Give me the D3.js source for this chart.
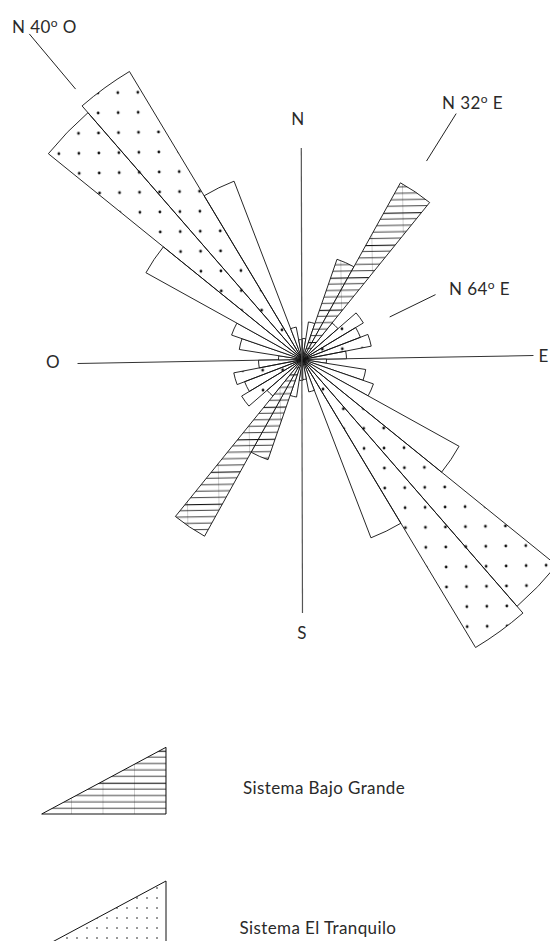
<!DOCTYPE html>
<html>
<head>
<meta charset="utf-8">
<script src="https://cdn.jsdelivr.net/npm/d3@7"></script>
<style>
  html, body { margin: 0; padding: 0; background: #fff; }
  svg { display: block; }
  text { font-family: Lato, "Open Sans", "DejaVu Sans", sans-serif; fill: #2a2a2a; letter-spacing: 0.4px; }
</style>
</head>
<body>
<svg id="rose" width="550" height="941"></svg>
<script>
// Azimuth bins (start of each 10° class); every class is drawn twice (az and az+180)
const binStarts = [0, 10, 20, 30, 40, 50, 60, 70, 80, 90, 100, 110, 120, 130, 140, 150, 160, 170];

// Frequencies per class
const otherValues      = [2.1, 3.8, 0, 0, 4.7, 0, 0, 0, 4.4, 2.4, 6.4, 7.5, 17.9, 0, 0, 19.1, 3.3, 2.0];
const tranquiloValues  = [0, 0, 0, 0, 0, 7.1, 6.2, 7.0, 0, 0, 0, 0, 0, 32.7, 33.6, 0, 0, 0];
const bajoGrandeValues = [0, 0, 10.6, 20.2, 0, 0, 0, 0, 0, 0, 0, 0, 0, 0, 0, 0, 0, 0];

// Compass points and main trends
const compassNames = ["N", "E", "S", "O"];
const trendNames   = ["N 40º O", "N 32º E", "N 64º E"];
const trendAz      = [320, 32, 64];

// Legend
const legendNames = ["Sistema Bajo Grande", "Sistema El Tranquilo"];
const legendFills = ["hatch", "dots-fine"];

const svg = d3.select("#rose");
const cx = 302.5, cy = 359.5;
const tilt = -1;               // the drawing is turned slightly anticlockwise

const r = d3.scaleLinear().domain([0, 35]).range([0, 350]);
const rad = d => d * Math.PI / 180;

// ---------- fill patterns ----------
const defs = svg.append("defs");

const dots = defs.append("pattern").attr("id", "dots")
  .attr("patternUnits", "userSpaceOnUse").attr("width", 20).attr("height", 20)
  .attr("x", 10).attr("y", 0);
dots.append("circle").attr("cx", 10).attr("cy", 10).attr("r", 1.4).attr("fill", "#111");

const dotsFine = defs.append("pattern").attr("id", "dots-fine")
  .attr("patternUnits", "userSpaceOnUse").attr("width", 10).attr("height", 10)
  .attr("x", 2).attr("y", 3);
dotsFine.append("circle").attr("cx", 5).attr("cy", 5).attr("r", 1).attr("fill", "#777");

const hatch = defs.append("pattern").attr("id", "hatch")
  .attr("patternUnits", "userSpaceOnUse").attr("width", 31.5).attr("height", 32)
  .attr("x", 8).attr("y", 14.7);
hatch.append("rect").attr("width", 31.5).attr("height", 32).attr("fill", "#fff");
hatch.append("line").attr("x1", 0).attr("x2", 0).attr("y1", 0).attr("y2", 32)
  .attr("stroke", "#888").attr("stroke-width", 0.8);
d3.range(5).forEach(i => {
  hatch.append("line").attr("x1", 0).attr("x2", 31.5)
    .attr("y1", i * 6.4).attr("y2", i * 6.4)
    .attr("stroke", "#111").attr("stroke-width", i === 0 ? 2.2 : 0.8);
});

// ---------- petals ----------
const petals = [];
[[otherValues, "#fff"], [tranquiloValues, "url(#dots)"], [bajoGrandeValues, "url(#hatch)"]]
  .forEach(([vals, fill]) => {
    binStarts.forEach((b, i) => {
      if (vals[i] > 0) {
        petals.push({ start: b, value: vals[i], fill });
        petals.push({ start: b + 180, value: vals[i], fill });
      }
    });
  });

const arc = d3.arc()
  .innerRadius(0)
  .outerRadius(d => r(d.value))
  .startAngle(d => rad(d.start))
  .endAngle(d => rad(d.start + 10));

const rose = svg.append("g")
  .attr("transform", `translate(${cx},${cy}) rotate(${tilt})`);

// East-west axis turns with the petals
rose.append("line")
  .attr("x1", -225).attr("x2", 231).attr("y1", 0).attr("y2", 0)
  .attr("stroke", "#333").attr("stroke-width", 1);

rose.selectAll("path.petal")
  .data(petals)
  .join("path")
  .attr("class", "petal")
  .attr("d", arc)
  .attr("fill", d => d.fill)
  .attr("stroke", "#111")
  .attr("stroke-width", 0.9)
  .attr("stroke-linejoin", "round");

// North-south axis
const axes = svg.append("g").attr("transform", `translate(${cx},${cy})`);
axes.append("line")
  .attr("x1", -1.2).attr("x2", 0).attr("y1", -211.5).attr("y2", 253.5)
  .attr("stroke", "#555").attr("stroke-width", 1.2);

// Compass letters
const compassPos = { N: [-4.5, -241], E: [241, -4], S: [-0.5, 273], O: [-249.5, 1.5] };
axes.selectAll("text.compass")
  .data(compassNames)
  .join("text")
  .attr("class", "compass")
  .attr("x", d => compassPos[d][0])
  .attr("y", d => compassPos[d][1])
  .attr("text-anchor", "middle")
  .attr("dominant-baseline", "central")
  .attr("font-size", 17)
  .text(d => d);

// Trend leader lines laid along their azimuths
const leaderSpan = [[353, 425], [234, 290], [97, 148]];
axes.selectAll("line.leader")
  .data(trendAz)
  .join("line")
  .attr("class", "leader")
  .attr("x1", (a, i) => leaderSpan[i][0] * Math.sin(rad(a)))
  .attr("y1", (a, i) => -leaderSpan[i][0] * Math.cos(rad(a)))
  .attr("x2", (a, i) => leaderSpan[i][1] * Math.sin(rad(a)))
  .attr("y2", (a, i) => -leaderSpan[i][1] * Math.cos(rad(a)))
  .attr("stroke", "#222").attr("stroke-width", 1);

// Trend labels, degree sign written as a raised "o"
const trendPos = [[12, 26], [442, 102], [449, 288]];
trendNames.forEach((name, i) => {
  const m = name.match(/^(N \d+)º (.)$/);
  const t = svg.append("text")
    .attr("x", trendPos[i][0]).attr("y", trendPos[i][1])
    .attr("dominant-baseline", "central")
    .attr("font-size", 17);
  t.append("tspan").text(m[1]);
  t.append("tspan").attr("font-size", 12).attr("dy", -4.5).text("o");
  t.append("tspan").attr("dy", 4.5).text(" " + m[2]);
});

// ---------- legend ----------
const legendTop = [747.3, 881];
const tri = d3.line();
const legend = svg.append("g");
legendNames.forEach((name, i) => {
  const y0 = legendTop[i], y1 = y0 + 66.7;
  legend.append("path")
    .attr("d", tri([[41.7, y1], [166, y1], [166, y0]]) + "Z")
    .attr("fill", `url(#${legendFills[i]})`)
    .attr("stroke", "#111").attr("stroke-width", 1);
  legend.append("text")
    .attr("x", i === 0 ? 243 : 239.5)
    .attr("y", i === 0 ? 793.5 : 934)
    .attr("font-size", 17)
    .text(name);
});
</script>
</body>
</html>
